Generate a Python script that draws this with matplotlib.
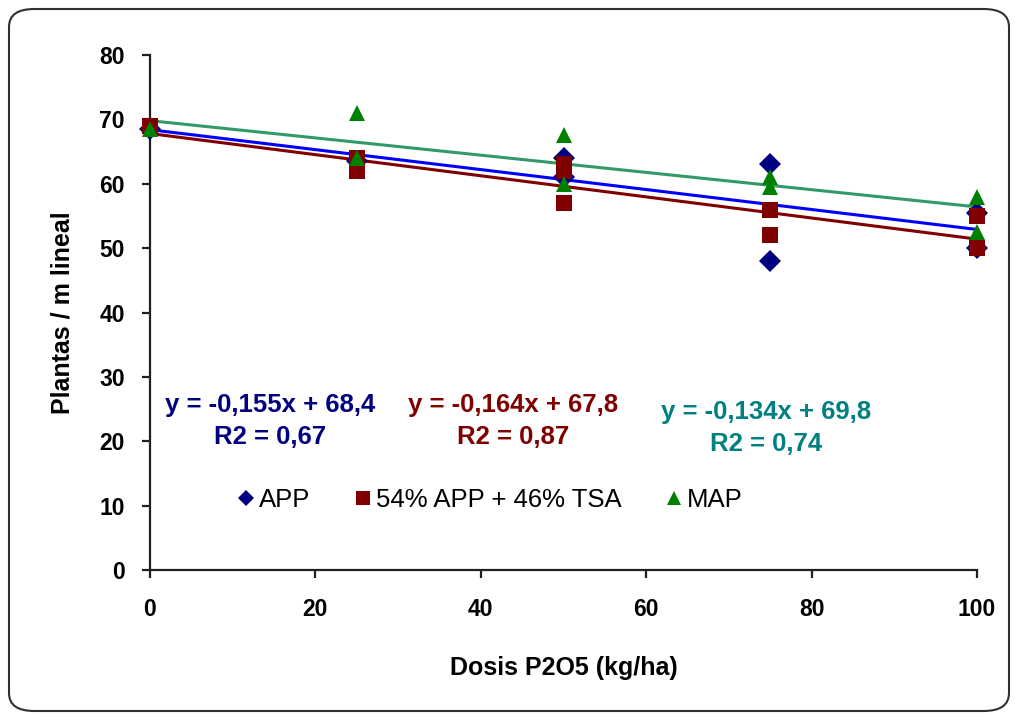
import matplotlib
matplotlib.use("Agg")
import matplotlib.pyplot as plt
from matplotlib.patches import FancyBboxPatch
from matplotlib.lines import Line2D
import numpy as np

plt.rcParams['font.family'] = ['Liberation Sans', 'DejaVu Sans']

# ---- data ----
app_x = [0, 25, 50, 50, 75, 75, 100, 100]
app_y = [68.5, 63.5, 64, 61, 63, 48, 50, 55.5]

mix_x = [0, 25, 25, 50, 50, 50, 75, 75, 100, 100]
mix_y = [69, 64, 62, 63, 62, 57, 56, 52, 55, 50]

map_x = [0, 25, 25, 50, 50, 75, 75, 100, 100]
map_y = [68.5, 71, 64, 67.5, 60, 61, 59.5, 58, 52.5]

series_names = ["APP", "54% APP + 46% TSA", "MAP"]
trend_slopes = [-0.155, -0.164, -0.134]
trend_intercepts = [68.4, 67.8, 69.8]
trend_labels = ["y = -0,155x + 68,4\nR2 = 0,67",
                "y = -0,164x + 67,8\nR2 = 0,87",
                "y = -0,134x + 69,8\nR2 = 0,74"]

x_ticks = [0, 20, 40, 60, 80, 100]
y_ticks = [0, 10, 20, 30, 40, 50, 60, 70, 80]
x_label = "Dosis P2O5 (kg/ha)"
y_label = "Plantas / m lineal"

# ---- styling ----
W, H = 1015, 717
fig = plt.figure(figsize=(W / 100, H / 100), dpi=100)

def fx(px):
    return px / W

def fy(py):
    return 1 - py / H

# rounded border
border = FancyBboxPatch((fx(9), fy(711)), fx(1009) - fx(9), fy(9) - fy(711),
                        boxstyle="round,pad=0,rounding_size=0.025",
                        transform=fig.transFigure, fill=False,
                        edgecolor="#303030", linewidth=1.5)
fig.patches.append(border)

ax = fig.add_axes([fx(150), fy(570), fx(977) - fx(150), fy(55) - fy(570)])
ax.set_xlim(0, 100)
ax.set_ylim(0, 80)
for s in ["top", "right"]:
    ax.spines[s].set_visible(False)
for s in ["left", "bottom"]:
    ax.spines[s].set_linewidth(1.6)
    ax.spines[s].set_color("#202020")
ax.set_xticks(x_ticks)
ax.set_yticks(y_ticks)
ax.tick_params(axis="both", direction="out", length=6, width=1.6, color="#202020",
               labelsize=16.5)
ax.tick_params(axis="y", pad=12)
ax.tick_params(axis="x", pad=14)
for lab in ax.get_xticklabels() + ax.get_yticklabels():
    lab.set_fontweight("bold")

marker_cols = ["#000080", "#800000", "#008000"]
line_cols = ["#0000FF", "#800000", "#339966"]
text_cols = ["#000080", "#800000", "#008080"]
markers = ["D", "s", "^"]
msizes = [11, 12, 12]
xs = [app_x, mix_x, map_x]
ys = [app_y, mix_y, map_y]

for i in range(3):
    xr = np.array([min(xs[i]), max(xs[i])])
    ax.plot(xr, trend_slopes[i] * xr + trend_intercepts[i], color=line_cols[i],
            lw=2.2, zorder=2, clip_on=False)
for i in range(3):
    ax.plot(xs[i], ys[i], linestyle="none", marker=markers[i], markersize=msizes[i],
            color=marker_cols[i], markeredgewidth=0, zorder=3 + i, clip_on=False)

ax.set_xlabel(x_label, fontsize=18, fontweight="bold")
ax.set_ylabel(y_label, fontsize=18, fontweight="bold")
ax.xaxis.set_label_coords(0.5, (570 - 668) / 515, transform=ax.transAxes)
ax.xaxis.label.set_va("center")
ax.yaxis.set_label_coords((63 - 150) / 827, 0.5, transform=ax.transAxes)
ax.yaxis.label.set_va("center")

# equations
eq_pos = [(270, 421), (513, 421), (766, 428)]
for i in range(3):
    fig.text(fx(eq_pos[i][0]), fy(eq_pos[i][1]), trend_labels[i], color=text_cols[i],
             fontsize=18.5, fontweight="bold", ha="center", va="center",
             multialignment="center", linespacing=1.45)

# legend
handles = [Line2D([], [], linestyle="none", marker=markers[i], color=marker_cols[i],
                  markersize=[8.5, 10, 10][i], markeredgewidth=0) for i in range(3)]
leg = fig.legend(handles, series_names, loc="center", bbox_to_anchor=(fx(488), fy(500)),
                 ncol=3, frameon=False, fontsize=18.5, handletextpad=0.0,
                 columnspacing=1.55, handlelength=1.0)

fig.savefig("out.png", dpi=100, facecolor="white")
